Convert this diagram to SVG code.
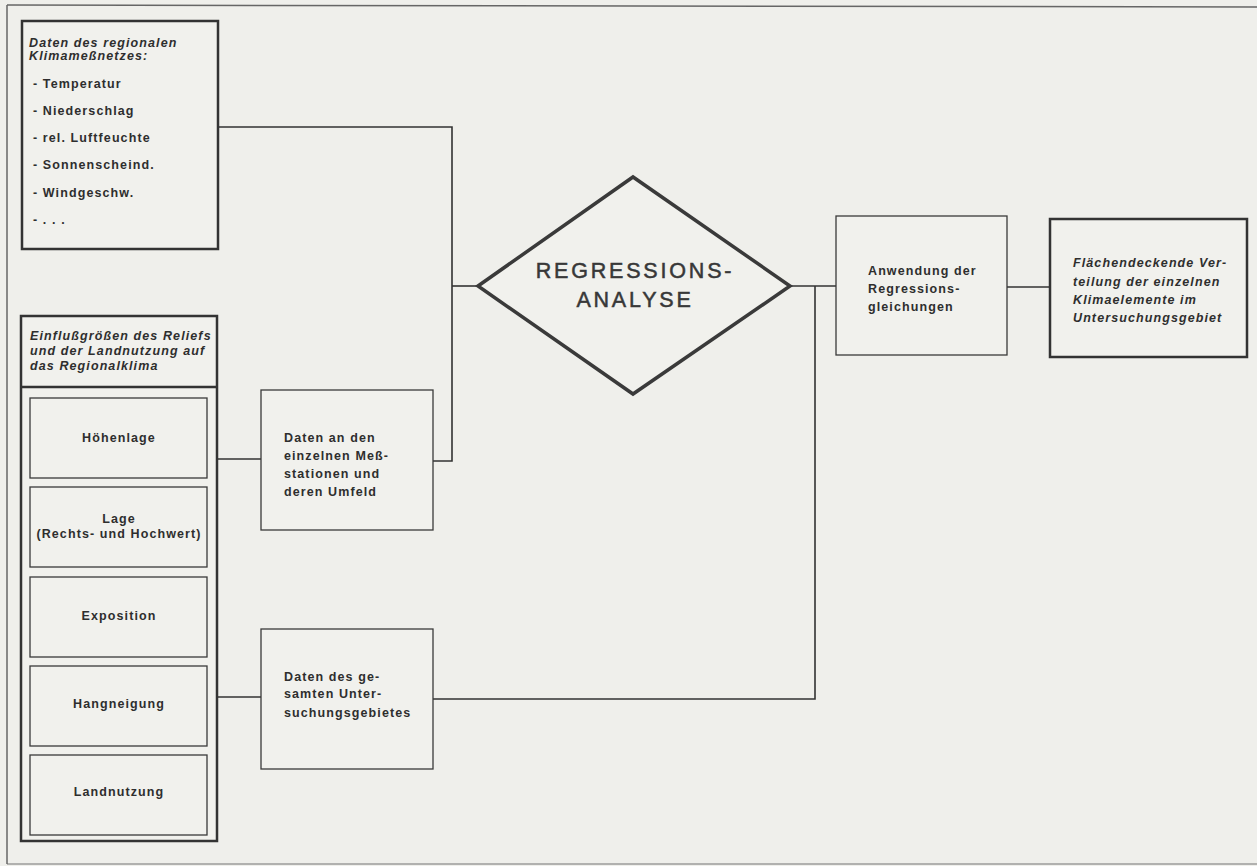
<svg xmlns="http://www.w3.org/2000/svg" width="1257" height="866" viewBox="0 0 1257 866">
<style>
.bg{fill:#efefeb}
.frame{fill:none;stroke:#666;stroke-width:1.5}
.thick{fill:#f1f1ed;stroke:#333;stroke-width:2.5}
.thin{fill:#f1f1ed;stroke:#3a3a3a;stroke-width:1.3}
.diamond{fill:#f1f1ed;stroke:#3a3a3a;stroke-width:3.5;stroke-linejoin:miter}
.conn{fill:none;stroke:#333;stroke-width:1.6}
.t{font-family:"Liberation Sans",Arial,Helvetica,sans-serif;font-weight:bold;font-size:12.5px;letter-spacing:1.1px;fill:#2e2e2e}
.i{font-style:italic}
.c{text-anchor:middle}
.big{font-family:"Liberation Sans",Arial,Helvetica,sans-serif;font-size:21.5px;letter-spacing:2.8px;fill:#383838;stroke:#383838;stroke-width:0.5;text-anchor:middle}
</style>
<rect class="bg" x="0" y="0" width="1257" height="866"/>
<g id="frame">
<line class="frame" x1="7" y1="5" x2="1257" y2="7"/>
<line class="frame" x1="7" y1="5" x2="7" y2="864"/>
<line class="frame" x1="7" y1="864" x2="1257" y2="864" stroke-opacity="0.6"/>
</g>
<g id="connectors">
<polyline class="conn" points="218,127 452,127 452,461 433,461"/>
<line class="conn" x1="452" y1="286" x2="478" y2="286"/>
<line class="conn" x1="217" y1="459" x2="261" y2="459"/>
<line class="conn" x1="217" y1="697" x2="261" y2="697"/>
<polyline class="conn" points="433,699 815,699 815,286"/>
<line class="conn" x1="790" y1="286" x2="836" y2="286"/>
<line class="conn" x1="1007" y1="287" x2="1050" y2="287"/>
</g>
<g id="klimamessnetz">
<rect class="thick" x="22" y="21" width="196" height="228"/>
<text class="t i" x="29" y="47">Daten des regionalen</text>
<text class="t i" x="29" y="60">Klimameßnetzes:</text>
<text class="t" x="33" y="88">- Temperatur</text>
<text class="t" x="33" y="115">- Niederschlag</text>
<text class="t" x="33" y="142">- rel. Luftfeuchte</text>
<text class="t" x="33" y="169">- Sonnenscheind.</text>
<text class="t" x="33" y="197">- Windgeschw.</text>
<text class="t" x="33" y="224">- . . .</text>
</g>
<g id="einflussgroessen">
<rect class="thick" x="21" y="316" width="196" height="525"/>
<line class="thick" x1="21" y1="387" x2="217" y2="387"/>
<text class="t i" x="30" y="340">Einflußgrößen des Reliefs</text>
<text class="t i" x="30" y="355">und der Landnutzung auf</text>
<text class="t i" x="30" y="370">das Regionalklima</text>
</g>
<g id="hoehenlage">
<rect class="thin" x="30" y="398" width="177" height="80"/>
<text class="t c" x="119" y="442">Höhenlage</text>
</g>
<g id="lage">
<rect class="thin" x="30" y="487" width="177" height="80"/>
<text class="t c" x="119" y="523">Lage</text>
<text class="t c" x="119" y="538">(Rechts- und Hochwert)</text>
</g>
<g id="exposition">
<rect class="thin" x="30" y="577" width="177" height="80"/>
<text class="t c" x="119" y="620">Exposition</text>
</g>
<g id="hangneigung">
<rect class="thin" x="30" y="666" width="177" height="80"/>
<text class="t c" x="119" y="708">Hangneigung</text>
</g>
<g id="landnutzung">
<rect class="thin" x="30" y="755" width="177" height="80"/>
<text class="t c" x="119" y="796">Landnutzung</text>
</g>
<g id="messstationen">
<rect class="thin" x="261" y="390" width="172" height="140"/>
<text class="t" x="284" y="442">Daten an den</text>
<text class="t" x="284" y="460">einzelnen Meß-</text>
<text class="t" x="284" y="478">stationen und</text>
<text class="t" x="284" y="496">deren Umfeld</text>
</g>
<g id="untersuchungsgebiet">
<rect class="thin" x="261" y="629" width="172" height="140"/>
<text class="t" x="284" y="681">Daten des ge-</text>
<text class="t" x="284" y="698">samten Unter-</text>
<text class="t" x="284" y="717">suchungsgebietes</text>
</g>
<g id="regressionsanalyse">
<polygon class="diamond" points="478,286 633,177 790,286 633,394"/>
<text class="big" x="635" y="278">REGRESSIONS-</text>
<text class="big" x="635" y="307">ANALYSE</text>
</g>
<g id="anwendung">
<rect class="thin" x="836" y="216" width="171" height="139"/>
<text class="t" x="868" y="275">Anwendung der</text>
<text class="t" x="868" y="293">Regressions-</text>
<text class="t" x="868" y="311">gleichungen</text>
</g>
<g id="verteilung">
<rect class="thick" x="1050" y="219" width="197" height="138"/>
<text class="t i" x="1073" y="267">Flächendeckende Ver-</text>
<text class="t i" x="1073" y="286">teilung der einzelnen</text>
<text class="t i" x="1073" y="304">Klimaelemente im</text>
<text class="t i" x="1073" y="322">Untersuchungsgebiet</text>
</g>
</svg>
